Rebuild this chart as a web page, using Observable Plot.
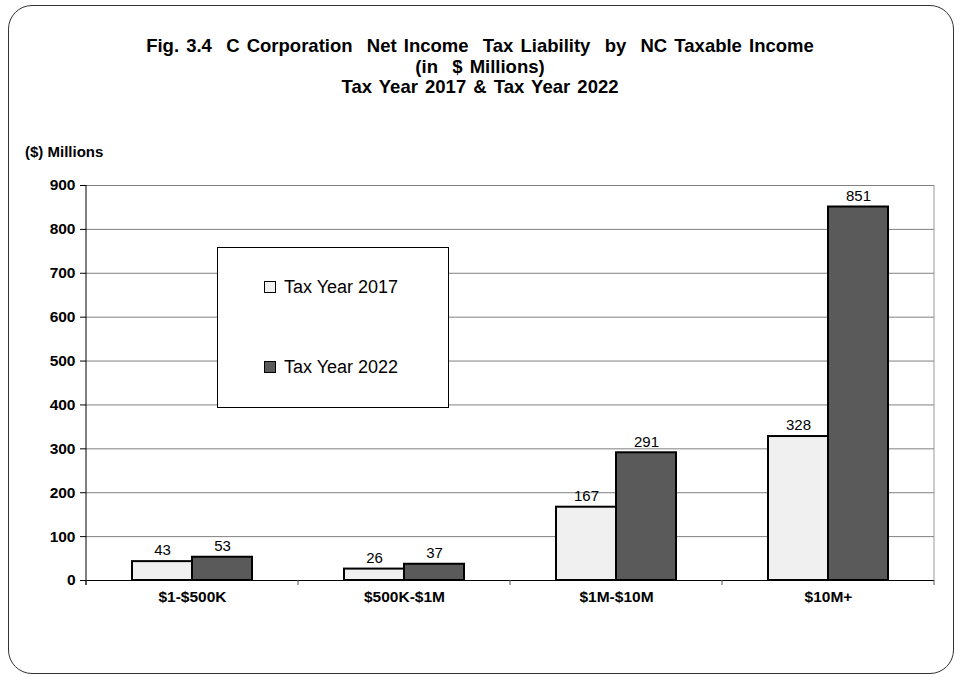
<!DOCTYPE html>
<html><head><meta charset="utf-8">
<script src="https://cdn.jsdelivr.net/npm/d3@7"></script>
<script src="https://cdn.jsdelivr.net/npm/@observablehq/plot@0.6"></script>
<style>
body{margin:0;background:#fff;font-family:"Liberation Sans",Arial,sans-serif}
#wrap{position:relative;width:960px;height:677px;overflow:hidden;background:#fff}
#border{position:absolute;left:8px;top:5px;width:946px;height:669px;border:1.5px solid #333;border-radius:24px;box-sizing:border-box}
#title{position:absolute;left:0;top:36px;width:960px;text-align:center;font-weight:bold;font-size:18.5px;line-height:20.5px;word-spacing:2px;white-space:pre;color:#000}
#ylabel{position:absolute;left:25px;top:143px;font-weight:bold;font-size:15px;color:#000}
#chart{position:absolute;left:0;top:0}
#legend{position:absolute;left:217px;top:247px;width:232px;height:161px;box-sizing:border-box;border:1px solid #000;background:#fff}
.item{position:absolute;left:46px;font-size:18px;line-height:22px;display:flex;align-items:center;color:#000}
.sw{width:10px;height:10px;border:1px solid #000;margin-right:8px}
svg text{fill:#000}
svg g[aria-label="y-axis tick label"] text, svg g[aria-label="fx-axis tick label"] text{font-size:15.5px;font-weight:bold}
</style></head>
<body>
<div id="wrap">
  <div id="border"></div>
  <div id="title"></div>
  <div id="ylabel"></div>
  <div id="chart"></div>
  <div id="legend"></div>
</div>
<script>
const titleLines = ["Fig. 3.4  C Corporation  Net Income  Tax Liability  by  NC Taxable Income", "(in  $ Millions)", "Tax Year 2017 & Tax Year 2022"];
const yAxisLabel = "($) Millions";
const categories = ["$1-$500K", "$500K-$1M", "$1M-$10M", "$10M+"];
const years = ["Tax Year 2017", "Tax Year 2022"];
const values2017 = [43, 26, 167, 328];
const values2022 = [53, 37, 291, 851];
const yTicks = [0, 100, 200, 300, 400, 500, 600, 700, 800, 900];
const colors = ["#f0f0f0", "#5a5a5a"];

document.getElementById("title").textContent = titleLines.join("\n");
document.getElementById("ylabel").textContent = yAxisLabel;

const data = categories.flatMap((c, i) => [
  {cat: c, year: years[0], value: values2017[i]},
  {cat: c, year: years[1], value: values2022[i]}
]);

const chart = Plot.plot({
  width: 960, height: 677,
  marginTop: 185, marginLeft: 86, marginRight: 26, marginBottom: 97,
  style: {fontFamily: "Liberation Sans, Arial, sans-serif", fontSize: "15.5px", background: "transparent", color: "#000"},
  fx: {domain: categories, padding: 0, label: null, axis: null},
  x: {domain: years, paddingInner: 0, paddingOuter: 0.74, axis: null},
  y: {domain: [0, 900], axis: null},
  color: {domain: years, range: colors},
  marks: [
    Plot.gridY(yTicks, {stroke: "#808080", strokeOpacity: 1}),
    Plot.axisY(yTicks, {tickSize: 6, tickPadding: 5, tickFormat: d => d, fontWeight: "bold", fontSize: 15.5, label: null, stroke: "#000"}),
    Plot.axisFx({anchor: "bottom", tickSize: 0, tickPadding: 10, fontWeight: "bold", fontSize: 15.5, label: null}),
    Plot.barY(data, {fx: "cat", x: "year", y: "value", fill: "year", stroke: "#000", strokeWidth: 2}),
    Plot.text(data, {fx: "cat", x: "year", y: "value", text: "value", dy: -11, fontSize: 15, fill: "#000"}),
    Plot.ruleY([0], {stroke: "#000", strokeWidth: 1})
  ]
});
document.getElementById("chart").appendChild(chart);

// frame lines and category boundary ticks, from the chart's own scales
const fxS = chart.scale("fx"), yS = chart.scale("y");
const svg = d3.select(chart);
const bounds = categories.map(c => fxS.apply(c)).concat([fxS.apply(categories[categories.length - 1]) + fxS.bandwidth]);
const y0 = yS.apply(0), yTop = yS.apply(900);
const g = svg.append("g");
g.selectAll("line.b").data(bounds).join("line")
  .attr("x1", d => d).attr("x2", d => d).attr("y1", y0).attr("y2", y0 + 5)
  .attr("stroke", "#555");
g.append("line").attr("x1", bounds[bounds.length - 1]).attr("x2", bounds[bounds.length - 1])
  .attr("y1", yTop).attr("y2", y0).attr("stroke", "#999");
g.append("line").attr("x1", bounds[0]).attr("x2", bounds[0])
  .attr("y1", yTop).attr("y2", y0 + 5).attr("stroke", "#000");

// legend
const legend = document.getElementById("legend");
years.forEach((y, i) => {
  const it = document.createElement("div");
  it.className = "item";
  it.style.top = (i === 0 ? 28 : 108) + "px";
  const sw = document.createElement("div");
  sw.className = "sw"; sw.style.background = colors[i];
  const t = document.createElement("span"); t.textContent = y;
  it.appendChild(sw); it.appendChild(t);
  legend.appendChild(it);
});
</script>
</body></html>
